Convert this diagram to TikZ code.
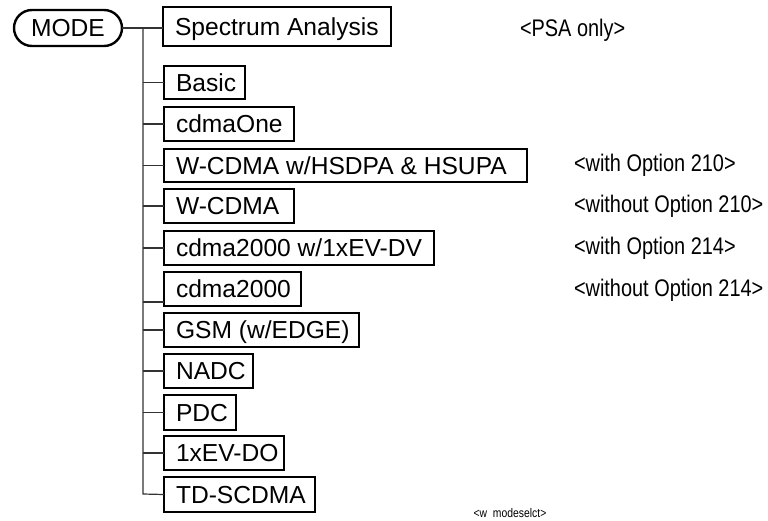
\documentclass[tikz,border=0pt]{standalone}
\usepackage{fontspec}
\setmainfont{Liberation Sans}
\newfontfamily\narrowfont[FakeStretch=0.83]{Liberation Sans}
\begin{document}
\begin{tikzpicture}[x=1pt,y=-1pt,
  every node/.style={inner sep=0pt, outer sep=0pt},
  mbox/.style={draw=black, line width=1.2pt, anchor=north west,
    inner xsep=12pt, inner ysep=0pt, text height=17.5pt, text depth=0pt,
    font=\fontsize{24.6}{24.6}\selectfont},
  note/.style={anchor=west, font=\narrowfont\fontsize{24}{24}\selectfont},
  conn/.style={draw=black!80, line width=1.2pt},
  modebox/.style={draw=black, line width=2.4pt, rounded corners=18pt,
    minimum width=108pt, minimum height=36pt, text height=17.5pt, text depth=0pt,
    font=\fontsize{24.6}{24.6}\selectfont}
]
\useasboundingbox (0,0) rectangle (768,520);
\newcommand\mkbox[6]{%
  \node[mbox, minimum height=#5pt-#3pt] (#6) at (#2,#3)
    {\makebox[\dimexpr #4pt-#2pt-24pt\relax][l]{#1}};}
\node[modebox] (mode) at (68,28) {MODE};
\mkbox{Spectrum Analysis}{163}{7}{391}{46}{spec}
\mkbox{Basic}{164}{66}{245}{99}{basic}
\mkbox{cdmaOne}{164}{107}{294}{141}{one}
\mkbox{W-CDMA w/HSDPA \& HSUPA}{164}{149}{527}{182}{wh}
\mkbox{W-CDMA}{164}{189}{294}{223}{wc}
\mkbox{cdma2000 w/1xEV-DV}{164}{231}{434}{265}{cdv}
\mkbox{cdma2000}{164}{272}{301}{306}{c2k}
\mkbox{GSM (w/EDGE)}{164}{313}{359}{347}{gsm}
\mkbox{NADC}{164}{354}{253}{388}{nadc}
\mkbox{PDC}{164}{395}{236}{430}{pdc}
\mkbox{1xEV-DO}{164}{436}{284}{470}{evdo}
\mkbox{TD-SCDMA}{164}{477}{315}{512}{td}

\coordinate (top) at (143,28);
\coordinate (bot) at (143,494);
\draw[conn] (mode.east) -- (spec.west |- mode.east);
\draw[conn] (top) -- (bot) -- (td.west);
\foreach \n in {basic,one,wh,wc,cdv,gsm,nadc,pdc,evdo}
  \draw[conn] (top |- \n.west) -- (\n.west);
\draw[conn] (top |- c2k.south west) ++(0,-4) -- ([yshift=4pt]c2k.south west);

\node[note] (n0) at (520,30) {<PSA only>};
\node[note] (n1) at (574,165) {<with Option 210>};
\node[note] (n2) at (574,206) {<without Option 210>};
\node[note] (n3) at (574,248) {<with Option 214>};
\node[note] (n4) at (574,290) {<without Option 214>};
\node[font=\narrowfont\fontsize{12.5}{12.5}\selectfont] (foot) at (510,513) {<w~~modeselct>};
\end{tikzpicture}
\end{document}
